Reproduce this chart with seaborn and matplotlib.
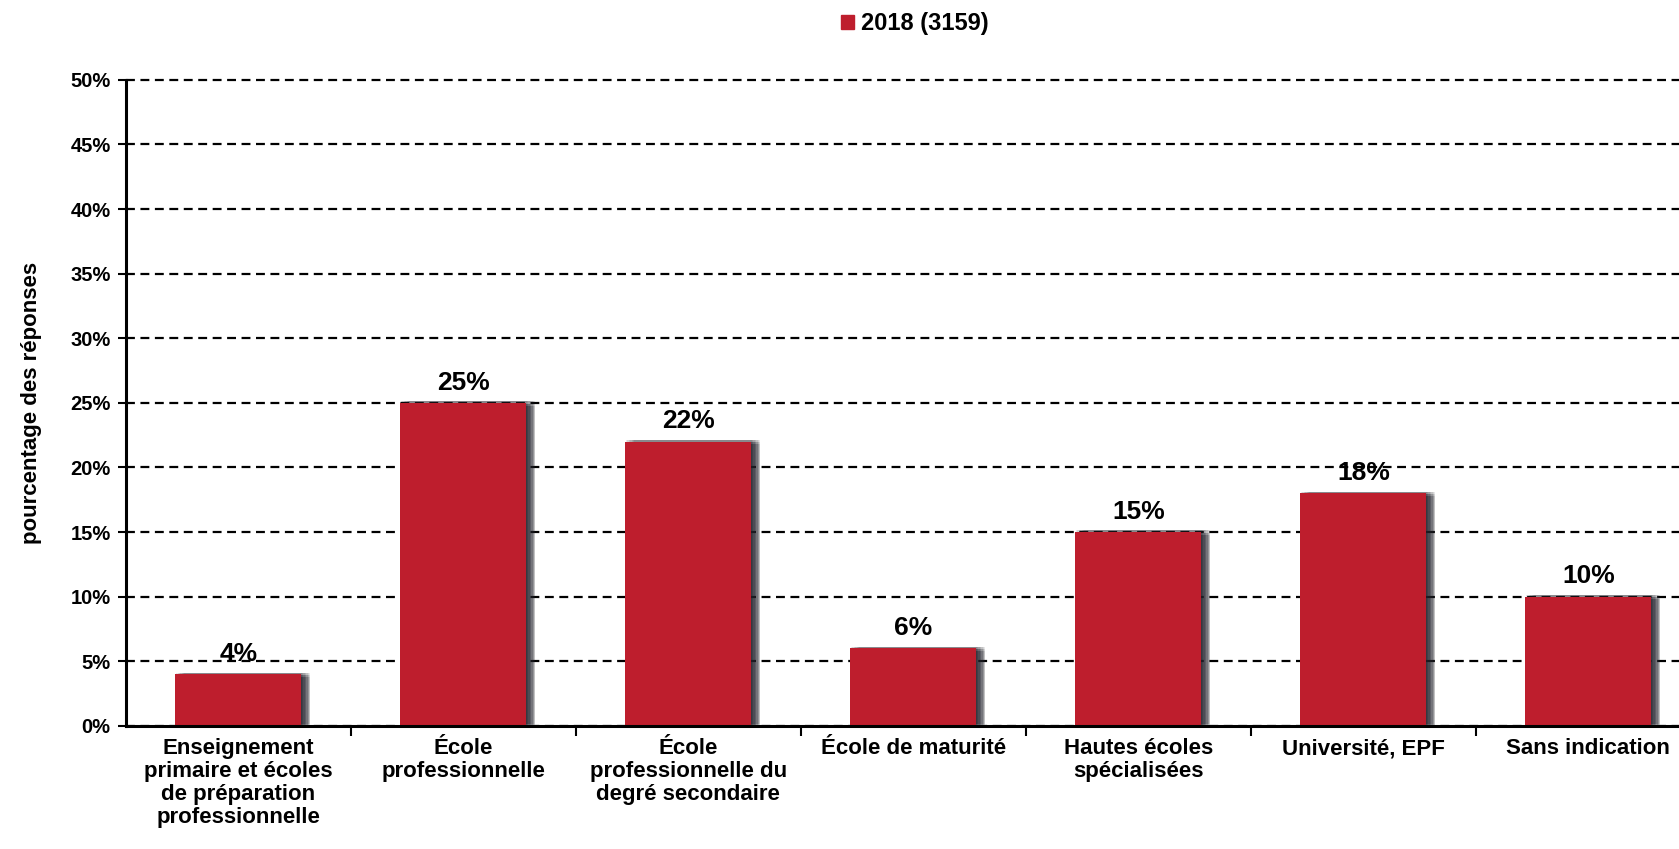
import numpy as np
import pandas as pd
import matplotlib
matplotlib.use("Agg")
import matplotlib.pyplot as plt
import matplotlib.patheffects as pe
import seaborn as sns

# Données
categories = [
    "Enseignement\nprimaire et écoles\nde préparation\nprofessionnelle",
    "École\nprofessionnelle",
    "École\nprofessionnelle du\ndegré secondaire",
    "École de maturité",
    "Hautes écoles\nspécialisées",
    "Université, EPF",
    "Sans indication",
]
pourcentages = [4, 25, 22, 6, 15, 18, 10]
serie = "2018 (3159)"
yticks = [0, 5, 10, 15, 20, 25, 30, 35, 40, 45, 50]

rouge = "#BE1E2D"

df = pd.DataFrame({"categorie": categories, "pct": pourcentages, "serie": serie})

sns.set_style("white")
plt.rcParams["font.family"] = ["Liberation Sans", "DejaVu Sans"]
plt.rcParams["font.weight"] = "bold"
plt.rcParams["text.color"] = "black"
plt.rcParams["axes.labelcolor"] = "black"
plt.rcParams["xtick.color"] = "black"
plt.rcParams["ytick.color"] = "black"

fig = plt.figure(figsize=(16.79, 8.49), dpi=100)
ax = fig.add_axes([0.075, 0.145, 0.938, 0.761])

sns.barplot(
    data=df, x="categorie", y="pct", hue="serie",
    palette=[rouge], width=0.56, saturation=1, ax=ax, legend=False,
    linewidth=0,
)

# ombre floue des barres (plusieurs couches décalées)
ombres = []
for dx in (0.5, 1.5, 2.5, 3.5, 4.5, 5.5, 6.5):
    for dy in (-2, -0.5, 1.2):
        ombres.append(pe.SimplePatchShadow(offset=(dx, dy), shadow_rgbFace="#25252e", alpha=0.1))
for p in ax.patches:
    p.set_path_effects(ombres + [pe.Normal()])
    p.set_zorder(3)

ax.set_ylim(0, 50)
ax.set_xlim(-0.5, 6.5)
ax.set_yticks(yticks)
ax.set_yticklabels([f"{v}%" for v in yticks], fontsize=14.5, fontweight="bold")

ax.grid(axis="y", color="black", linestyle=(0, (4, 2.5)), linewidth=1.6, zorder=1)
for gl in ax.get_ygridlines():
    gl.set_clip_on(False)
ax.set_axisbelow(True)

ax.set_xticks(range(len(categories)))
ax.set_xticklabels(categories, fontsize=16, fontweight="bold", linespacing=1.12)
ax.tick_params(axis="x", which="major", length=0, pad=9)
ax.set_xticks(np.arange(0.5, len(categories), 1), minor=True)
ax.tick_params(axis="x", which="minor", bottom=True, length=7, width=1.5,
               direction="out", color="black")
ax.tick_params(axis="y", left=True, length=6, width=1.5, direction="out",
               color="black", pad=5)

for s in ["top", "right"]:
    ax.spines[s].set_visible(False)
for s in ["left", "bottom"]:
    ax.spines[s].set_color("black")
    ax.spines[s].set_linewidth(2.2)
    ax.spines[s].set_zorder(4)

ax.set_xlabel("")
ax.set_ylabel("pourcentage des réponses", fontsize=16, fontweight="bold", labelpad=20)

for c in ax.containers:
    ax.bar_label(c, labels=[f"{v}%" for v in pourcentages], padding=6,
                 fontsize=19, fontweight="bold", color="black")

handle = plt.Rectangle((0, 0), 1, 1, color=rouge)
fig.legend([handle], [serie], loc="center", bbox_to_anchor=(0.545, 0.972),
           frameon=False, handlelength=0.55, handleheight=0.55, handletextpad=0.3,
           prop={"size": 17, "weight": "bold"})

fig.savefig("out.png", dpi=100)
